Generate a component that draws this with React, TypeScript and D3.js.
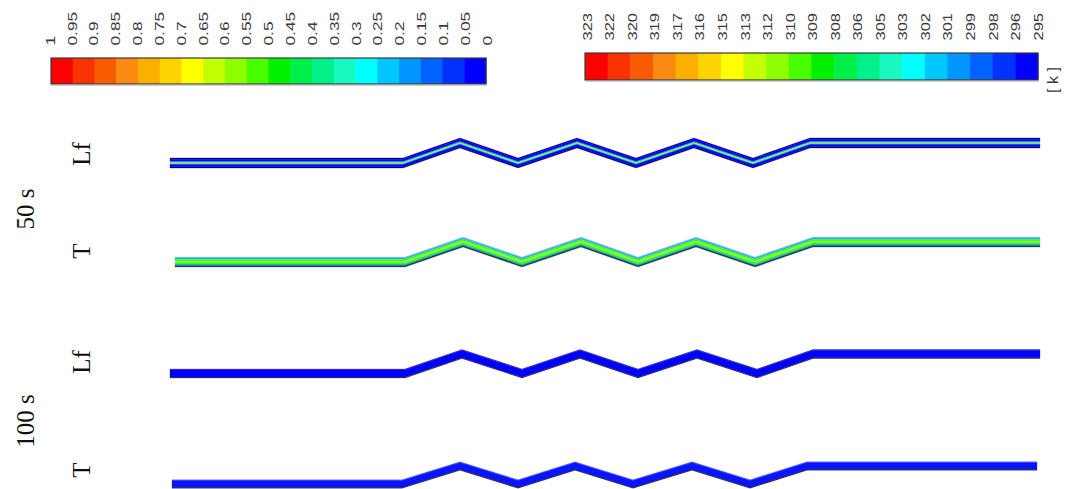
import React from "react";
import * as d3 from "d3";

// ---------- data ----------
const fractionLabels = ["1", "0.95", "0.9", "0.85", "0.8", "0.75", "0.7", "0.65", "0.6", "0.55", "0.5", "0.45", "0.4", "0.35", "0.3", "0.25", "0.2", "0.15", "0.1", "0.05", "0"];
const tempLabels = ["323", "322", "320", "319", "317", "316", "315", "313", "312", "310", "309", "308", "306", "305", "303", "302", "301", "299", "298", "296", "295"];
const bandColors = ["#ff0000", "#f83200", "#f95c00", "#fb8a12", "#fbb000", "#fdd400", "#ffff00", "#c2ff00", "#8cff00", "#48ff00", "#00f000", "#00f04a", "#00f08a", "#1af8c2", "#00ffff", "#00c8ff", "#0096ff", "#0062ff", "#0032ff", "#0000ff"];

const timeLabels = ["50 s", "100 s"];
const fieldLabels = ["Lf", "T", "Lf", "T"];

// channel centre-line vertices (streamwise position, wave state 0 = low, 1 = high)
const lf50X = [0, 233, 290, 348, 407, 466, 524, 583, 640, 870];
const t50X = [5, 235, 293, 352, 411, 468, 526, 585, 643, 870];
const lf100X = [0, 235, 292, 352, 410, 468, 527, 587, 643, 870];
const t100X = [2, 232, 290, 348, 405, 463, 522, 580, 637, 867];
const waveState = [0, 0, 1, 0, 1, 0, 1, 0, 1, 1];
const rowBase = [0, 99, 210.5, 321];
const rowAmp = [20, 20, 19.5, 18];

// ---------- styles ----------
type Layer = [number, number, string];
const layersLf50: Layer[] = [
  [-5, -3.8, "#00007a"], [-3.8, -1.6, "#0000ff"], [-1.6, -0.6, "#0090ff"],
  [-0.6, 0.7, "#b0ff00"], [0.7, 1.6, "#00b8ff"], [1.6, 3.8, "#0000ff"], [3.8, 5, "#00007a"],
];
const layersT50: Layer[] = [
  [-5, -4, "#90b8ff"], [-4, -2.8, "#10a8ff"], [-2.8, -1, "#30ff30"],
  [-1, 0.6, "#a8ff00"], [0.6, 2, "#30f840"], [2, 3.4, "#18c8a0"], [3.4, 5, "#1a4050"],
];
const layersLf100: Layer[] = [[-4.5, -3.8, "#30308a"], [-3.8, 3.8, "#0000ff"], [3.8, 4.5, "#1a1a50"]];
const layersT100: Layer[] = [[-4.25, -3.4, "#4a5cff"], [-3.4, 3.4, "#0a14ff"], [3.4, 4.25, "#101040"]];

const channels = [
  { xs: lf50X, layers: layersLf50 },
  { xs: t50X, layers: layersT50 },
  { xs: lf100X, layers: layersLf100 },
  { xs: t100X, layers: layersT100 },
];

const W = 1067;
const H = 489;

// advance width (em) of Arial-like glyphs used in labels
const advance = (s: string) =>
  s.split("").reduce((acc, ch) => acc + (ch === "." ? 0.278 : ch === " " ? 0.278 : ch === "[" || ch === "]" ? 0.278 : ch === "k" ? 0.5 : 0.556), 0);

export default function App() {
  const xScale = d3.scaleLinear().domain([0, 870]).range([170, 1040]);
  const yScale = d3.scaleLinear().domain([0, 321]).range([163, 484]);

  const leftBar = d3.scaleBand<number>().domain(d3.range(bandColors.length)).range([51, 486]).paddingInner(0);
  const rightBar = d3.scaleBand<number>().domain(d3.range(bandColors.length)).range([585, 1038]).paddingInner(0);
  const leftTick = d3.scaleLinear().domain([0, fractionLabels.length - 1]).range([50, 487]);
  const rightTick = d3.scaleLinear().domain([0, tempLabels.length - 1]).range([587, 1038]);

  const fieldY = [154, 251, 362, 470];
  const timeY = [209, 421];
  const sans = "Liberation Sans, Arial, sans-serif";
  const serif = "Liberation Serif, Times New Roman, serif";
  const fs = 13;
  const stretch = 1.33;

  return (
    <svg width={W} height={H} style={{ position: "absolute", left: 0, top: 0, background: "#fff" }}>
      <rect width={W} height={H} fill="#fff" />

      {/* left colorbar */}
      <g>
        {bandColors.map((c, i) => (
          <rect key={i} x={leftBar(i)} y={58} width={leftBar.bandwidth() + 0.5} height={26} fill={c} />
        ))}
        <rect x={51} y={58} width={435} height={26} fill="none" stroke="#3a3a3a" strokeWidth={1.2} />
        <line x1={52} x2={487} y1={85.2} y2={85.2} stroke="#b8b8b8" strokeWidth={1} />
        {fractionLabels.map((t, i) => (
          <text key={t} transform={`translate(${leftTick(i)},45.5) rotate(-90)`} dy="0.36em"
            textLength={advance(t) * fs * stretch} lengthAdjust="spacingAndGlyphs"
            fontFamily={sans} fontSize={fs} fill="#3a3a3a">{t}</text>
        ))}
      </g>

      {/* right colorbar */}
      <g>
        {bandColors.map((c, i) => (
          <rect key={i} x={rightBar(i)} y={53} width={rightBar.bandwidth() + 0.5} height={27} fill={c} />
        ))}
        <rect x={585} y={53} width={453} height={27} fill="none" stroke="#3a3a3a" strokeWidth={1.2} />
        <line x1={586} x2={1039} y1={81.2} y2={81.2} stroke="#b8b8b8" strokeWidth={1} />
        {tempLabels.map((t, i) => (
          <text key={t + i} transform={`translate(${rightTick(i)},40.5) rotate(-90)`} dy="0.36em"
            textLength={advance(t) * fs * 1.27} lengthAdjust="spacingAndGlyphs"
            fontFamily={sans} fontSize={fs} fill="#3a3a3a">{t}</text>
        ))}
        <text transform={`translate(1053,93) rotate(-90)`} dy="0.36em"
          textLength={26} lengthAdjust="spacingAndGlyphs"
          fontFamily={sans} fontSize={14} fill="#3a3a3a">[ k ]</text>
      </g>

      {/* channels */}
      {channels.map((ch, r) => {
        const pts = ch.xs.map((x, i) => ({
          x: xScale(x),
          y: yScale(rowBase[r] - rowAmp[r] * waveState[i]),
        }));
        return (
          <g key={r}>
            {ch.layers.map(([a, b, c], j) => {
              const area = d3.area<{ x: number; y: number }>()
                .x((d) => d.x)
                .y0((d) => d.y + a)
                .y1((d) => d.y + b)
                .curve(d3.curveLinear);
              return <path key={j} d={area(pts) || ""} fill={c} stroke={c} strokeWidth={0.3} />;
            })}
          </g>
        );
      })}

      {/* labels */}
      {timeLabels.map((t, i) => (
        <text key={t} transform={`translate(25,${timeY[i]}) rotate(-90)`} dy="0.35em" textAnchor="middle"
          fontFamily={serif} fontSize={25} fill="#111">{t}</text>
      ))}
      {fieldLabels.map((t, i) => (
        <text key={i} transform={`translate(81,${fieldY[i]}) rotate(-90)`} dy="0.35em" textAnchor="middle"
          fontFamily={serif} fontSize={25} fill="#111">{t}</text>
      ))}
    </svg>
  );
}
